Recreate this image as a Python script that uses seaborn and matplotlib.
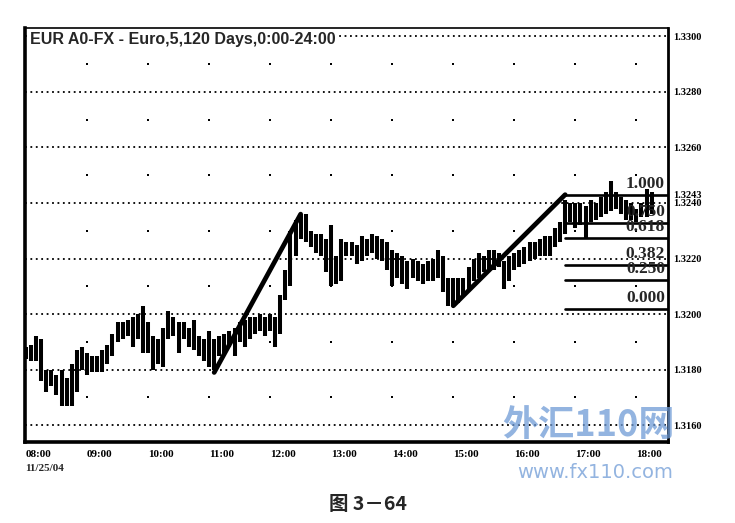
import matplotlib
matplotlib.use("Agg")
import matplotlib.pyplot as plt
import numpy as np
import pandas as pd
import seaborn as sns

# 5-minute EUR bars from 08:00, 11/25/04
start_hour = 8.0
bar_minutes = 5
highs = [1.3188, 1.3189, 1.3192, 1.3191, 1.3180, 1.3180, 1.3178, 1.3180, 1.3177, 1.3182,
         1.3187, 1.3188, 1.3186, 1.3185, 1.3185, 1.3187, 1.3189, 1.3193, 1.3197, 1.3197,
         1.3198, 1.3199, 1.3200, 1.3203, 1.3197, 1.3192, 1.3191, 1.3195, 1.3201, 1.3199,
         1.3197, 1.3197, 1.3195, 1.3198, 1.3192, 1.3191, 1.3194, 1.3191, 1.3192, 1.3193,
         1.3194, 1.3195, 1.3197, 1.3198, 1.3199, 1.3199, 1.3200, 1.3199, 1.3200, 1.3199,
         1.3207, 1.3216, 1.3230, 1.3234, 1.3236, 1.3236, 1.3230, 1.3229, 1.3229, 1.3227,
         1.3232, 1.3221, 1.3227, 1.3226, 1.3226, 1.3225, 1.3228, 1.3227, 1.3229, 1.3228,
         1.3227, 1.3226, 1.3223, 1.3222, 1.3221, 1.3219, 1.3220, 1.3219, 1.3218, 1.3219,
         1.3220, 1.3223, 1.3221, 1.3213, 1.3213, 1.3213, 1.3213, 1.3217, 1.3220, 1.3222,
         1.3221, 1.3223, 1.3223, 1.3222, 1.3219, 1.3221, 1.3222, 1.3223, 1.3224, 1.3226,
         1.3226, 1.3227, 1.3228, 1.3228, 1.3231, 1.3233, 1.3241, 1.3240, 1.3240, 1.3240,
         1.3239, 1.3241, 1.3240, 1.3242, 1.3244, 1.3248, 1.3244, 1.3242, 1.3241, 1.3240,
         1.3238, 1.3240, 1.3245, 1.3244]
lows = [1.3184, 1.3183, 1.3183, 1.3176, 1.3172, 1.3174, 1.3171, 1.3167, 1.3167, 1.3167,
        1.3172, 1.3180, 1.3178, 1.3179, 1.3179, 1.3179, 1.3182, 1.3185, 1.3190, 1.3191,
        1.3192, 1.3188, 1.3191, 1.3186, 1.3186, 1.3180, 1.3182, 1.3181, 1.3191, 1.3192,
        1.3186, 1.3191, 1.3188, 1.3187, 1.3185, 1.3183, 1.3181, 1.3180, 1.3185, 1.3186,
        1.3188, 1.3185, 1.3190, 1.3188, 1.3191, 1.3193, 1.3194, 1.3192, 1.3194, 1.3188,
        1.3193, 1.3205, 1.3210, 1.3221, 1.3227, 1.3226, 1.3224, 1.3222, 1.3221, 1.3215,
        1.3210, 1.3211, 1.3212, 1.3221, 1.3221, 1.3218, 1.3219, 1.3221, 1.3222, 1.3220,
        1.3219, 1.3216, 1.3210, 1.3213, 1.3211, 1.3209, 1.3213, 1.3212, 1.3211, 1.3212,
        1.3212, 1.3213, 1.3208, 1.3203, 1.3203, 1.3204, 1.3206, 1.3209, 1.3212, 1.3213,
        1.3215, 1.3216, 1.3216, 1.3217, 1.3209, 1.3212, 1.3216, 1.3217, 1.3218, 1.3219,
        1.3220, 1.3221, 1.3221, 1.3221, 1.3224, 1.3226, 1.3229, 1.3233, 1.3231, 1.3232,
        1.3227, 1.3233, 1.3234, 1.3235, 1.3236, 1.3237, 1.3238, 1.3236, 1.3234, 1.3234,
        1.3233, 1.3235, 1.3235, 1.3236]

# trend lines (hour, price)
trend1_hours = [11 + 5 / 60, 12.5]
trend1_prices = [1.3179, 1.3236]
trend2_hours = [15.0, 16 + 50 / 60]
trend2_prices = [1.3203, 1.3243]

# fibonacci retracement
fib_low = 1.3202
fib_high = 1.3243
fib_ratios = [0.000, 0.250, 0.382, 0.618, 0.750, 1.000]
fib_start = 16 + 50 / 60

hour_ticks = list(range(8, 19))
hour_labels = ['08:00', '09:00', '10:00', '11:00', '12:00', '13:00',
               '14:00', '15:00', '16:00', '17:00', '18:00']
price_ticks = [1.3160, 1.3180, 1.3200, 1.3220, 1.3240, 1.3243, 1.3260, 1.3280, 1.3300]
price_labels = ['1.3160', '1.3180', '1.3200', '1.3220', '1.3240', '1.3243',
                '1.3260', '1.3280', '1.3300']
half_levels = [1.3170, 1.3190, 1.3210, 1.3230, 1.3250, 1.3270, 1.3290]

title = 'EUR A0-FX - Euro,5,120 Days,0:00-24:00'
caption = '图 3－64'

n = len(highs)
hours = start_hour + np.arange(n) * bar_minutes / 60
bars = pd.DataFrame({
    'hour': np.repeat(hours, 2),
    'price': np.ravel(np.column_stack([lows, highs])),
    'bar': np.repeat(np.arange(n), 2),
})

sns.set_theme(style='white')
plt.rcParams['font.family'] = ['Liberation Serif', 'DejaVu Sans']

fig = plt.figure(figsize=(7.35, 5.23), dpi=100)
ax = fig.add_axes([0.034, 0.155, 0.875, 0.791])

# dotted grid
for lvl in [1.3160, 1.3180, 1.3200, 1.3220, 1.3240, 1.3260, 1.3280, 1.3300]:
    ax.axhline(lvl, color='black', lw=1.3, ls=(0, (1, 2.0)), zorder=1)
hx, hy = np.meshgrid(hour_ticks[1:], half_levels)
ax.scatter(hx.ravel(), hy.ravel(), s=4, marker='s', color='black', lw=0, zorder=1)

# price bars
sns.lineplot(data=bars, x='hour', y='price', units='bar', estimator=None,
             color='black', lw=2.9, ax=ax, zorder=3)
for line in ax.lines[-n:]:
    line.set_solid_capstyle('butt')

# trend lines
sns.lineplot(x=trend1_hours, y=trend1_prices, color='black', lw=3.4, ax=ax, zorder=4)
sns.lineplot(x=trend2_hours, y=trend2_prices, color='black', lw=3.4, ax=ax, zorder=4)

ax.set_xlim(7.984, 18.52)
ax.set_ylim(1.3154, 1.33029)

for r in fib_ratios:
    lvl = fib_low + r * (fib_high - fib_low)
    ax.plot([fib_start, 18.52], [lvl, lvl], color='black', lw=1.9, zorder=4)
    ax.text(18.47, lvl + 0.00010, f'{r:.3f}', ha='right', va='bottom',
            fontsize=12.5, fontweight='heavy', zorder=5)

ax.set_xticks(hour_ticks)
ax.set_xticklabels(hour_labels, ha='left', fontsize=8, fontweight='bold')
ax.yaxis.tick_right()
ax.set_yticks(price_ticks)
ax.set_yticklabels(price_labels, fontsize=7.5, fontweight='bold')
ax.tick_params(axis='both', length=0, pad=4, colors='black')
ax.tick_params(axis='x', pad=6)
ax.set_xlabel('')
ax.set_ylabel('')

for side, w in [('left', 2.6), ('bottom', 2.6), ('right', 2.0), ('top', 1.2)]:
    ax.spines[side].set_visible(True)
    ax.spines[side].set_color('black')
    ax.spines[side].set_linewidth(w)

ax.text(0.008, 0.992, title, transform=ax.transAxes, ha='left', va='top',
        fontsize=11.5, fontweight='bold', family=['Liberation Sans', 'DejaVu Sans'],
        bbox=dict(facecolor='white', edgecolor='none', pad=0.5), zorder=6)
fig.text(0.034, 0.105, '11/25/04', ha='left', va='center', fontsize=8, fontweight='bold')

# watermark
fig.text(0.80, 0.187, '外汇110网', ha='center', va='center', fontsize=26, fontweight='bold',
         style='italic', color='#6f9bd6', alpha=0.75,
         family=['Noto Sans CJK SC', 'DejaVu Sans'], zorder=10)
fig.text(0.81, 0.097, 'www.fx110.com', ha='center', va='center', fontsize=14,
         color='#6f9bd6', alpha=0.75, family=['DejaVu Sans'], zorder=10)

fig.text(0.5, 0.035, caption, ha='center', va='center', fontsize=14, fontweight='bold',
         family=['Noto Sans CJK SC', 'DejaVu Sans'])

fig.savefig('out.png', dpi=100, facecolor='white')
